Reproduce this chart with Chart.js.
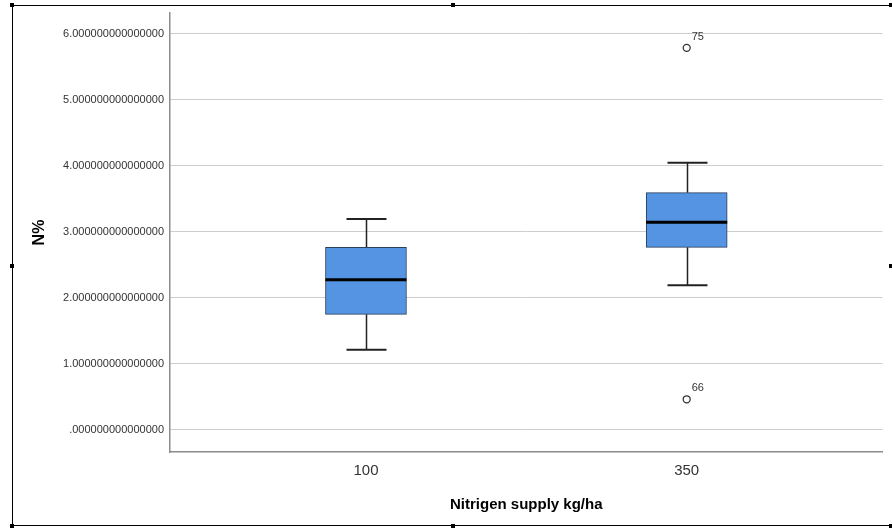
<!DOCTYPE html>
<html>
<head>
<meta charset="utf-8">
<script src="https://cdn.jsdelivr.net/npm/chart.js@4/dist/chart.umd.min.js"></script>
<style>
  html, body { margin: 0; padding: 0; background: #fff; }
  #wrap { width: 892px; height: 529px; position: relative; }
</style>
</head>
<body>
<div id="wrap"><canvas id="c" width="892" height="529"></canvas></div>
<script>
// ---- data ----
const categories = ['100', '350'];
const q1 = [1.753, 2.768];
const median = [2.277, 3.147];
const q3 = [2.768, 3.596];
const whiskerLow = [1.217, 2.192];
const whiskerHigh = [3.197, 4.050];
const outlierCategory = [1, 1];
const outlierValues = [5.79, 0.465];
const outlierLabels = ['75', '66'];
const yTicks = [0, 1, 2, 3, 4, 5, 6];

const BOX_W = 81;
const CAP_W = 40;

const boxPlugin = {
  id: 'boxParts',
  beforeDatasetsDraw(chart) {
    const ctx = chart.ctx, x = chart.scales.x, y = chart.scales.y;
    ctx.save();
    ctx.strokeStyle = '#222';
    categories.forEach((c, i) => {
      const xc = Math.round(x.getPixelForValue(i)) + 0.5;
      const yHi = y.getPixelForValue(whiskerHigh[i]);
      const yLo = y.getPixelForValue(whiskerLow[i]);
      const yQ3 = y.getPixelForValue(q3[i]);
      const yQ1 = y.getPixelForValue(q1[i]);
      ctx.lineWidth = 1.5;
      ctx.beginPath();
      ctx.moveTo(xc, yHi); ctx.lineTo(xc, yQ3);
      ctx.moveTo(xc, yQ1); ctx.lineTo(xc, yLo);
      ctx.stroke();
      ctx.lineWidth = 2;
      ctx.beginPath();
      ctx.moveTo(xc - CAP_W / 2, yHi); ctx.lineTo(xc + CAP_W / 2, yHi);
      ctx.moveTo(xc - CAP_W / 2, yLo); ctx.lineTo(xc + CAP_W / 2, yLo);
      ctx.stroke();
    });
    ctx.restore();
  },
  afterDatasetsDraw(chart) {
    const ctx = chart.ctx, x = chart.scales.x, y = chart.scales.y;
    ctx.save();
    ctx.strokeStyle = '#000';
    ctx.lineWidth = 3;
    categories.forEach((c, i) => {
      const xc = x.getPixelForValue(i);
      const ym = y.getPixelForValue(median[i]);
      ctx.beginPath();
      ctx.moveTo(xc - BOX_W / 2, ym); ctx.lineTo(xc + BOX_W / 2, ym);
      ctx.stroke();
    });
    ctx.fillStyle = '#333';
    ctx.font = '11px "Liberation Sans", Arial, sans-serif';
    ctx.textAlign = 'left';
    ctx.textBaseline = 'middle';
    outlierValues.forEach((v, k) => {
      const px = x.getPixelForValue(outlierCategory[k]);
      const py = y.getPixelForValue(v);
      ctx.fillText(outlierLabels[k], px + 5, py - 11);
    });
    ctx.restore();
  },
  afterDraw(chart) {
    const ctx = chart.ctx;
    ctx.save();
    ctx.strokeStyle = '#000';
    ctx.lineWidth = 1;
    ctx.beginPath();
    ctx.moveTo(12, 5.5); ctx.lineTo(891, 5.5);
    ctx.moveTo(12.5, 5); ctx.lineTo(12.5, 526);
    ctx.moveTo(12, 525.5); ctx.lineTo(891, 525.5);
    ctx.stroke();
    ctx.fillStyle = '#000';
    [[12, 5], [453, 5], [891, 5], [12, 266], [891, 266], [12, 526], [453, 526], [891, 526]].forEach(([hx, hy]) => {
      ctx.fillRect(hx - 2, hy - 2, 4, 4);
    });
    ctx.restore();
  }
};

new Chart(document.getElementById('c'), {
  type: 'bar',
  data: {
    datasets: [
      {
        type: 'bar',
        data: categories.map((c, i) => ({ x: i, y: [q1[i], q3[i]] })),
        backgroundColor: '#5594e2',
        borderColor: '#2a3f5c',
        borderWidth: 1,
        borderSkipped: false,
        barThickness: BOX_W
      },
      {
        type: 'scatter',
        data: outlierValues.map((v, k) => ({ x: outlierCategory[k], y: v })),
        pointRadius: 3.5,
        pointHoverRadius: 3.5,
        pointBorderWidth: 1.3,
        borderColor: '#333',
        backgroundColor: '#fff',
        pointBackgroundColor: '#fff',
        pointBorderColor: '#333'
      }
    ]
  },
  options: {
    responsive: false,
    animation: false,
    events: [],
    layout: { padding: { top: 13, right: 9.5, bottom: 0, left: 0 } },
    plugins: { legend: { display: false }, tooltip: { enabled: false } },
    scales: {
      x: {
        type: 'linear',
        min: -0.611,
        max: 1.6105,
        offset: false,
        grid: { display: false, drawTicks: false },
        border: { display: true, color: '#8c8c8c', width: 1.5 },
        afterBuildTicks: (s) => { s.ticks = categories.map((c, i) => ({ value: i })); },
        afterFit: (s) => { s.height = 77; },
        ticks: {
          padding: 10,
          color: '#333',
          font: { family: '"Liberation Sans", Arial, sans-serif', size: 15 },
          maxRotation: 0,
          callback: (v) => categories[v]
        },
        title: {
          display: true,
          text: 'Nitrigen supply kg/ha',
          color: '#000',
          font: { family: '"Liberation Sans", Arial, sans-serif', size: 15, weight: 'bold' },
          padding: { top: 0, bottom: 15 }
        }
      },
      y: {
        type: 'linear',
        min: -1 / 3,
        max: 6.318,
        afterBuildTicks: (s) => { s.ticks = yTicks.map(v => ({ value: v })); },
        afterFit: (s) => { s.width = 170; },
        grid: { color: '#cdcdcd', lineWidth: 1, drawTicks: false },
        border: { display: true, color: '#8c8c8c', width: 1.5 },
        ticks: {
          padding: 6,
          color: '#333',
          font: { family: '"Liberation Sans", Arial, sans-serif', size: 11 },
          callback: (v) => v === 0 ? '.000000000000000' : v.toFixed(15)
        },
        title: {
          display: true,
          text: 'N%',
          color: '#000',
          font: { family: '"Liberation Sans", Arial, sans-serif', size: 16, weight: 'bold' },
          padding: { top: 30, bottom: 0 }
        }
      }
    }
  },
  plugins: [boxPlugin]
});
</script>
</body>
</html>
